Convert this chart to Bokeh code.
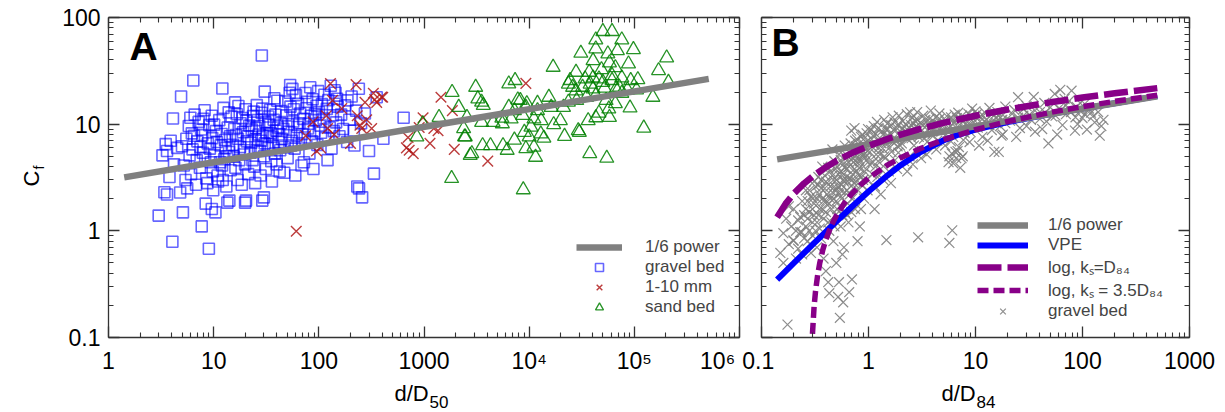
import math
from bokeh.plotting import figure
from bokeh.models import LogAxis, Label, Legend, LegendItem, FixedTicker
from bokeh.layouts import row
from bokeh.embed import file_html
from bokeh.resources import INLINE

FONT = "Liberation Sans"
NB = "\u00a0"

# ---------------- data ----------------
a_xticks = [1, 10, 100, 1000, 1e4, 1e5, 1e6]
a_xticklabels = ["1", "10", "100", "1000", "10⁴", "10⁵", "10⁶" + NB]
b_xticks = [0.1, 1, 10, 100, 1000]
b_xticklabels = ["0.1" + NB, "1", "10", "100", "1000"]
yticks = [0.1, 1, 10, 100]
yticklabels = ["0.1", "1", "10", "100"]

# Panel A: gravel bed (d/D50, Cf)
gravel_a = [
    (3.0, 1.39), (4.05, 0.79), (5.1, 1.49), (7.7, 1.1), (9.0, 0.68), (10.4, 1.49), (9.6, 1.6),
    (13.5, 1.84), (19.9, 1.84), (29, 1.92), (3.6, 2.19), (4.8, 2.29), (8.4, 1.8), (14.1, 1.92),
    (20.3, 1.92), (30, 2.06), (241, 2.5), (258, 2.06), (28.7, 44), (6.4, 25.7), (4.9, 18.2),
    (12.1, 21.6), (16, 16), (30.6, 20.2), (53.4, 23.3), (334, 3.44), (232, 2.6), (300, 5.6),
    (218, 6.3), (411, 7.3), (640, 11.5), (274, 12.6), (187, 16.7), (355, 17.9), (144, 19.7),
    (3.26, 5.1), (3.6, 5.6), (4.1, 11.3), (6.0, 11.5), (3.5, 6.5), (3.9, 7.0), (4.2, 4.2),
    (4.5, 6.0), (3.8, 3.2), (3.4, 2.3),
    (5.2, 4.1), (5.5, 7.3), (5.8, 9.6), (6.1, 3.4), (6.3, 5.8), (6.6, 12.3), (6.8, 2.7), (7.0, 6.9),
    (5.4, 3.0), (5.9, 5.1), (6.2, 8.2), (6.9, 4.6), (7.2, 10.5), (5.0, 6.2), (5.6, 2.5), (6.5, 7.8),
    (7.4, 3.9), (7.6, 8.9), (7.9, 5.4), (8.2, 13.5), (8.5, 3.1), (8.8, 6.6), (9.1, 9.8), (9.4, 4.4),
    (9.7, 7.4), (9.9, 2.4), (7.5, 6.1), (8.0, 11.2), (8.3, 4.8), (8.7, 2.8), (9.2, 5.9), (9.6, 12.0),
    (9.8, 3.6), (7.8, 7.9),
    (10.2, 5.1), (10.5, 8.6), (10.9, 3.3), (11.3, 10.9), (11.7, 6.3), (12.0, 4.1), (12.4, 14.2),
    (12.8, 7.1), (13.2, 2.6), (13.6, 9.3), (14.0, 5.5), (14.5, 3.7), (14.8, 11.8), (10.7, 6.8),
    (11.0, 2.9), (11.9, 8.1), (12.6, 4.7), (13.0, 6.0), (13.9, 12.9), (14.3, 7.7), (10.1, 9.9),
    (11.5, 4.4), (12.2, 3.0), (13.4, 5.0),
    (15.2, 6.4), (15.7, 9.0), (16.1, 3.9), (16.6, 12.4), (17.0, 7.3), (17.5, 4.6), (18.0, 10.2),
    (18.5, 2.7), (19.0, 8.4), (19.6, 5.7), (20.1, 13.8), (20.7, 6.9), (21.3, 3.4), (21.8, 9.7),
    (15.5, 5.0), (16.3, 7.9), (17.8, 6.1), (18.8, 11.4), (19.9, 4.2), (21.0, 7.7), (16.9, 3.0),
    (20.4, 10.8), (17.2, 14.8), (19.3, 5.2),
    (22.4, 5.4), (23.0, 8.9), (23.7, 11.9), (24.3, 4.0), (25.0, 7.2), (25.7, 15.1), (26.4, 6.1),
    (27.1, 9.6), (27.9, 3.3), (28.6, 12.8), (29.4, 7.8), (30.2, 5.0), (31.0, 10.4), (31.8, 8.3),
    (22.8, 6.7), (24.8, 2.8), (26.0, 10.9), (27.5, 5.6), (29.0, 14.0), (30.6, 6.6), (23.4, 4.6),
    (25.3, 9.2), (28.2, 7.0), (31.4, 3.8), (26.8, 8.0), (24.0, 13.1),
    (32.6, 6.0), (33.5, 9.9), (34.4, 13.6), (35.3, 4.5), (36.2, 7.6), (37.2, 11.0), (38.2, 5.3),
    (39.2, 8.7), (40.3, 16.6), (41.3, 6.8), (42.4, 3.6), (43.5, 10.2), (44.6, 7.3), (33.0, 11.8),
    (34.9, 8.2), (36.7, 6.2), (38.7, 12.3), (40.8, 9.3), (42.9, 5.7), (44.0, 13.3), (35.8, 2.9),
    (39.7, 4.2), (37.7, 17.5), (41.9, 8.0),
    (46.0, 9.0), (47.5, 6.1), (49.0, 12.1), (50.5, 4.8), (52.0, 8.5), (53.7, 14.6), (55.3, 7.0),
    (57.0, 10.6), (58.8, 5.9), (60.6, 18.7), (62.5, 9.4), (64.4, 6.6), (66.4, 12.6), (68.4, 4.1),
    (48.2, 16.3), (51.2, 10.0), (54.5, 6.3), (57.9, 13.8), (61.5, 7.8), (65.4, 10.2), (69.4, 8.1),
    (46.8, 3.5), (56.1, 21.4), (63.4, 15.5), (59.7, 3.3), (52.8, 19.7),
    (71.0, 11.2), (73.5, 7.5), (76.0, 14.1), (78.7, 9.1), (81.4, 5.3), (84.3, 12.0), (87.3, 17.1),
    (90.3, 8.6), (93.5, 10.9), (96.8, 6.4), (100, 13.0), (103.5, 9.7), (107, 15.4), (74.7, 19.6),
    (80.0, 10.1), (85.8, 6.9), (91.9, 12.5), (98.4, 20.4), (105, 8.3), (72.2, 4.4), (88.8, 3.8),
    (77.3, 16.2), (95.1, 14.9), (82.8, 22.2),
    (111, 11.3), (115, 7.4), (119, 13.9), (123, 16.8), (127, 9.3), (132, 5.9), (136, 12.1),
    (141, 20.8), (146, 10.4), (151, 14.6), (157, 7.7), (113, 18.9), (121, 4.6), (130, 22.9),
    (139, 8.6), (149, 17.3),
    (163, 12.3), (170, 9.0), (178, 15.0), (186, 6.8), (195, 11.0), (205, 18.2), (215, 8.7),
    (226, 13.4), (240, 21.5), (252, 10.2),
]

# Panel A: 1-10 mm
mm_a = [
    (61, 0.99), (129, 24), (226, 23.5), (275, 16), (355, 16), (405, 17.9), (340, 17), (395, 18),
    (232, 12), (246, 9.8), (318, 9.1), (256, 9.1), (121, 9.1), (104, 6.0), (135, 16.7), (118, 12),
    (705, 7.5), (790, 5.3), (723, 5.7), (980, 11.5), (900, 9.3), (1240, 9.1), (1360, 8.7),
    (1140, 6.6), (1450, 17.9), (1860, 13.4), (1940, 5.8), (4040, 4.5), (9300, 24.1),
    (75, 7.8), (88, 10.5), (95, 5.6), (140, 8.0), (165, 14.0), (200, 6.6), (285, 11.0),
    (330, 19.5), (680, 6.0),
]

# Panel A: sand bed
sand_a = [
    (50200, 74), (61400, 74), (43000, 61.8), (76000, 61.8), (98000, 50.1), (31000, 46.3),
    (203000, 41.9), (16900, 34.2), (170000, 31.8), (88000, 36.8), (43000, 50.8), (56000, 45.6),
    (69000, 49), (27900, 30.7), (37200, 30.7), (46100, 26.6), (61400, 28.6), (92400, 25.7),
    (211000, 24.7), (25900, 22.2), (32200, 22.2), (40500, 21.4), (52100, 21.8), (66900, 21.4),
    (86000, 21.0), (150000, 17.9), (91000, 14.2), (57200, 13.9), (46100, 12.7), (58000, 11.6),
    (36400, 10.8), (43000, 11.5), (29300, 8.7), (30000, 8.4), (21700, 7.7), (123000, 9.2),
    (37700, 5.3), (54700, 4.8), (15400, 17.9), (12000, 15.7), (9500, 15.6), (7800, 16.9),
    (7350, 25.7), (6400, 23.9), (3100, 22.2), (3250, 17.3), (3530, 16.1), (3660, 15.0),
    (2140, 14.4), (1850, 19.9), (2560, 11.6), (2380, 9.1), (2470, 7.6), (3530, 10.4),
    (4540, 10.4), (5560, 10.1), (6740, 11.2), (8670, 12.1), (11100, 11.2), (13000, 10.8),
    (17100, 9.9), (19800, 10.8), (10400, 9.4), (9000, 8.4), (7240, 7.1), (10000, 7.6),
    (12900, 8.1), (13800, 7.4), (11100, 6.1), (9300, 5.9), (11500, 4.9), (6180, 5.7),
    (5640, 6.3), (4290, 6.3), (3610, 6.3), (2850, 5.3), (2750, 5.1), (2430, 7.6), (855, 7.6),
    (1390, 11.6), (973, 10.1), (1830, 3.1), (8790, 2.43), (8240, 16.7), (9300, 14.4),
    (12000, 13.4), (16200, 14.4), (21200, 14.4), (23600, 16.1), (28300, 16.7), (35100, 17.9),
    (43000, 18.6), (53900, 16.7), (72000, 22.2), (105000, 21.0), (6400, 14.4), (7240, 13.4),
    (5500, 11.4), (38000, 23.8), (50200, 24.7), (61400, 25.7), (40500, 27.2), (76000, 27.2),
    (34000, 26.6), (48700, 32.5), (58000, 37.6), (40500, 39.4), (66000, 33.9), (108000, 26.2),
    (24500, 25.7), (27900, 20.5), (23600, 23.8), (76000, 19.5), (66000, 15.6),
]

# Panel A: 1/6 power line
power_a_x = [1.41, 5.1e5]
power_a_y = [3.17, 26.6]

# Panel B: gravel bed (d/D84, Cf)
gravel_b = [
    (0.15, 0.62), (0.16, 0.95), (0.17, 1.3), (0.175, 0.132), (0.18, 0.75), (0.19, 1.1), (0.2, 0.81),
    (0.2, 1.6), (0.21, 0.55), (0.22, 0.68), (0.22, 1.25), (0.23, 0.97), (0.24, 1.9), (0.24, 0.6),
    (0.25, 1.4), (0.237, 0.97), (0.198, 0.81), (0.16, 0.5), (0.18, 1.7),
    (0.26, 1.1), (0.27, 0.8), (0.28, 1.5), (0.29, 2.1), (0.3, 0.9), (0.3, 1.2), (0.31, 1.8),
    (0.32, 2.6), (0.33, 0.7), (0.34, 1.4), (0.35, 1.05), (0.35, 2.2), (0.36, 3.0), (0.37, 1.6),
    (0.38, 0.55), (0.38, 1.3), (0.39, 2.5), (0.4, 1.9), (0.4, 0.42), (0.27, 1.9), (0.29, 0.62),
    (0.32, 1.0), (0.34, 3.2), (0.36, 0.85), (0.26, 2.4), (0.31, 1.4), (0.37, 4.0),
    (0.41, 2.8), (0.42, 1.2), (0.42, 0.33), (0.43, 0.26), (0.44, 3.6), (0.45, 1.6), (0.46, 2.3),
    (0.47, 0.8), (0.48, 4.5), (0.49, 1.4), (0.5, 3.0), (0.5, 1.9), (0.52, 0.24), (0.52, 2.6),
    (0.53, 5.2), (0.54, 0.153), (0.55, 1.1), (0.55, 3.6), (0.56, 2.0), (0.57, 0.6), (0.58, 0.214),
    (0.58, 4.2), (0.59, 2.9), (0.6, 1.5), (0.44, 2.0), (0.46, 5.8), (0.48, 2.6), (0.51, 4.0),
    (0.54, 1.7), (0.57, 3.3), (0.6, 6.3), (0.43, 1.0), (0.47, 3.0), (0.5, 0.5), (0.53, 0.33),
    (0.59, 0.7),
    (0.62, 3.8), (0.63, 2.4), (0.64, 5.0), (0.65, 1.2), (0.66, 0.266), (0.67, 3.1), (0.68, 6.6),
    (0.69, 8.7), (0.7, 0.35), (0.7, 2.0), (0.72, 4.4), (0.73, 2.8), (0.74, 5.6), (0.75, 1.6),
    (0.77, 3.6), (0.78, 7.2), (0.8, 2.4), (0.81, 4.8), (0.83, 1.1), (0.84, 6.0), (0.86, 3.2),
    (0.88, 8.0), (0.9, 4.0), (0.91, 2.0), (0.93, 5.3), (0.95, 6.8), (0.97, 3.0), (0.99, 9.0),
    (0.65, 4.4), (0.71, 3.4), (0.76, 6.2), (0.82, 3.9), (0.87, 5.4), (0.92, 7.4), (0.96, 4.6),
    (0.79, 0.8), (0.85, 1.6), (0.64, 1.8), (0.98, 2.4), (0.74, 9.2),
    (1.02, 4.2), (1.05, 6.3), (1.08, 3.4), (1.1, 7.8), (1.12, 9.6), (1.15, 2.6), (1.18, 5.2),
    (1.2, 10.5), (1.23, 4.5), (1.27, 7.0), (1.3, 3.8), (1.33, 8.6), (1.36, 5.9), (1.4, 11.0),
    (1.43, 4.8), (1.47, 0.82), (1.47, 6.7), (1.5, 10.1), (1.55, 3.6), (1.6, 8.2), (1.64, 5.5),
    (1.68, 11.6), (1.72, 7.4), (1.77, 4.6), (1.82, 9.3), (1.87, 6.2), (1.92, 12.0), (1.97, 8.0),
    (1.06, 8.8), (1.16, 4.0), (1.25, 6.0), (1.38, 3.0), (1.52, 7.8), (1.62, 2.8), (1.75, 10.4),
    (1.9, 5.4), (1.14, 1.6), (1.3, 2.2), (1.45, 9.0), (1.85, 3.8),
    (2.05, 6.6), (2.1, 10.7), (2.15, 4.5), (2.2, 8.6), (2.28, 12.4), (2.35, 7.2), (2.42, 5.0),
    (2.5, 9.8), (2.58, 11.5), (2.66, 6.3), (2.75, 8.9), (2.85, 13.0), (2.91, 0.87), (2.95, 7.6),
    (3.05, 10.3), (3.15, 5.6), (3.25, 12.0), (3.35, 8.3), (3.46, 9.6), (3.58, 6.9), (3.7, 11.2),
    (3.82, 13.4), (3.95, 8.0), (2.3, 3.6), (2.6, 4.2), (3.1, 4.8), (3.5, 5.2), (2.18, 9.4),
    (2.7, 10.8), (3.3, 7.3), (3.9, 10.0), (2.45, 12.9),
    (4.1, 9.1), (4.25, 11.6), (4.4, 7.0), (4.6, 12.6), (4.8, 8.5), (5.0, 10.4), (5.2, 6.3),
    (5.4, 11.9), (5.6, 4.4), (5.7, 0.77), (5.8, 9.6), (6.0, 5.3), (6.06, 1.01), (6.2, 7.6),
    (6.4, 12.3), (6.6, 4.8), (6.8, 9.0), (7.0, 6.1), (7.3, 11.0), (7.6, 5.0), (7.9, 8.3),
    (4.5, 9.9), (5.3, 8.0), (6.1, 10.9), (6.9, 12.8), (7.7, 7.1), (4.3, 5.8), (5.9, 6.9),
    (7.2, 3.9), (6.5, 5.5),
    (8.2, 10.2), (8.6, 12.5), (9.0, 8.4), (9.5, 11.2), (10, 13.2), (10.5, 9.3), (11, 11.8),
    (11.6, 7.6), (12.2, 12.9), (12.8, 10.0), (13.5, 14.2), (14.2, 8.8), (15, 5.5), (15.5, 11.5),
    (16, 13.0), (16.5, 5.5), (17, 9.6), (18, 12.2), (19, 14.6), (8.8, 6.8), (10.8, 6.3),
    (13, 7.0), (17.5, 7.8), (9.3, 14.0), (14.8, 12.0),
    (21, 10.8), (23, 13.6), (25, 17.9), (26, 9.2), (28, 12.0), (30, 14.8), (33, 11.0), (36, 8.5),
    (40, 13.0), (44, 15.8), (48, 6.6), (52, 11.8), (55, 19.2), (60, 14.0), (65, 9.8), (70, 12.4),
    (75, 16.5), (79, 20.6), (85, 8.7), (90, 10.0), (95, 13.3), (100, 11.4), (110, 8.9),
    (120, 12.8), (130, 10.4), (145, 7.8), (157, 11.0), (24, 7.6), (35, 18.0), (46, 10.6),
    (58, 8.0), (68, 17.3), (88, 14.5), (105, 15.5), (62, 21.0),
    (0.21, 1.0), (0.23, 1.35), (0.25, 0.85), (0.26, 1.6), (0.28, 1.0), (0.28, 2.4), (0.3, 1.6),
    (0.31, 2.9), (0.33, 1.2), (0.33, 2.0), (0.35, 1.6), (0.36, 2.5), (0.38, 1.9), (0.39, 3.3),
    (0.4, 1.5), (0.41, 2.2), (0.42, 3.9), (0.43, 1.8), (0.44, 2.6), (0.45, 1.2), (0.46, 3.3),
    (0.47, 2.0), (0.48, 1.1), (0.49, 3.8), (0.5, 2.4), (0.27, 1.3), (0.3, 2.0), (0.34, 2.7),
    (0.37, 2.0), (0.4, 2.9),
    (0.51, 1.6), (0.52, 3.4), (0.53, 2.2), (0.55, 4.6), (0.56, 2.7), (0.57, 1.4), (0.58, 3.0),
    (0.6, 2.3), (0.61, 4.9), (0.62, 3.2), (0.63, 1.4), (0.64, 2.9), (0.66, 4.0), (0.67, 2.2),
    (0.68, 5.3), (0.7, 3.0), (0.71, 4.8), (0.72, 2.5), (0.74, 3.8), (0.75, 7.0), (0.76, 2.9),
    (0.78, 4.4), (0.8, 5.8), (0.81, 3.3), (0.83, 4.5), (0.85, 7.6), (0.86, 2.7), (0.88, 5.0),
    (0.9, 6.5), (0.92, 3.6), (0.94, 4.9), (0.96, 8.2), (0.98, 5.6), (0.6, 3.9), (0.69, 1.5),
    (0.77, 5.1), (0.89, 3.0), (0.55, 2.4),
    (1.03, 5.5), (1.07, 7.2), (1.1, 4.4), (1.13, 6.4), (1.17, 8.1), (1.21, 3.2), (1.24, 9.2),
    (1.28, 5.2), (1.32, 6.6), (1.37, 8.0), (1.41, 5.0), (1.46, 7.6), (1.51, 9.0), (1.57, 6.0),
    (1.63, 9.8), (1.69, 6.8), (1.76, 8.6), (1.83, 7.0), (1.9, 10.0), (1.97, 6.3), (2.05, 9.0),
    (2.13, 7.8), (2.22, 10.0), (2.32, 8.2), (2.42, 9.2), (2.53, 7.4), (2.64, 10.2), (2.76, 9.5),
    (2.88, 11.0), (3.0, 9.0),
    (3.2, 9.8), (3.4, 11.0), (3.6, 10.0), (3.8, 9.2), (4.0, 10.8), (4.3, 10.0), (4.6, 11.2),
    (4.9, 9.6), (5.2, 10.8), (5.5, 9.0), (5.9, 11.6), (6.3, 10.2), (6.7, 11.4), (7.1, 9.9),
    (7.5, 12.0), (8.0, 11.0), (8.5, 9.6), (9.0, 12.0), (9.6, 10.5), (10.3, 12.4), (11.0, 10.6),
    (11.8, 12.0), (12.6, 11.0), (13.5, 9.8), (14.5, 12.6), (15.5, 10.4), (16.5, 12.0),
    (17.8, 11.0), (19.0, 10.2), (5.7, 5.0), (6.2, 4.3), (6.8, 5.6), (7.4, 4.8),
    (22, 12.5), (25, 11.5), (28, 13.8), (32, 12.3), (36, 13.4), (40, 11.2), (45, 12.8),
    (50, 14.4), (56, 12.0), (63, 13.6), (70, 15.0), (78, 13.0), (86, 11.6), (95, 15.8),
    (105, 12.4), (115, 14.0), (125, 11.8), (140, 13.0), (150, 9.6), (18.0, 8.0), (30, 9.6),
    (42, 9.0),
]

# Panel B: model curves
power_b_x = [0.14, 500]
power_b_y = [4.68, 18.3]
vpe_x = [0.14, 0.2, 0.3, 0.5, 0.7, 1, 1.5, 2, 3, 5, 7, 10, 20, 50, 100, 200, 500]
vpe_y = [0.349, 0.497, 0.743, 1.222, 1.683, 2.333, 3.301, 4.124, 5.408, 7.03, 7.99, 8.91,
         10.47, 12.41, 13.98, 15.71, 18.31]
log1_x = [0.14, 0.17, 0.2, 0.25, 0.3, 0.4, 0.5, 0.7, 1, 1.5, 2, 3, 5, 10, 20, 50, 100, 200, 500]
log1_y = [1.34, 1.82, 2.23, 2.785, 3.24, 3.96, 4.52, 5.36, 6.25, 7.26, 7.98, 8.99, 10.27, 12.0,
          13.73, 16.02, 17.75, 19.48, 21.77]
log35_x = [0.29, 0.295, 0.3, 0.31, 0.32, 0.335, 0.35, 0.375, 0.4, 0.45, 0.5, 0.6, 0.7, 0.85, 1,
           1.5, 2, 3, 5, 10, 20, 50, 100, 200, 500]
log35_y = [0.0272, 0.0699, 0.112, 0.194, 0.273, 0.387, 0.497, 0.669, 0.830, 1.124, 1.388, 1.843,
           2.228, 2.712, 3.118, 4.131, 4.849, 5.862, 7.138, 8.868, 10.60, 12.89, 14.62, 16.35, 18.64]

# ---------------- helpers ----------------
AX_COLOR = "#333333"


def minor_of(ticks):
    out = []
    for t in ticks:
        for m in range(2, 10):
            out.append(t * m)
    return out


def style_axis(ax, ticks, labels=None):
    ax.ticker = FixedTicker(ticks=ticks, minor_ticks=minor_of(ticks))
    ax.major_tick_in = 11
    ax.major_tick_out = 0
    ax.minor_tick_in = 5
    ax.minor_tick_out = 0
    ax.axis_line_color = AX_COLOR
    ax.axis_line_width = 1.3
    ax.major_tick_line_color = AX_COLOR
    ax.major_tick_line_width = 1.3
    ax.minor_tick_line_color = AX_COLOR
    ax.minor_tick_line_width = 1.1
    if labels is None:
        ax.major_label_overrides = {float(t): " " for t in ticks}
        ax.major_label_text_font_size = "1px"
        ax.major_label_text_alpha = 0
        ax.major_label_standoff = 0
    else:
        ax.major_label_overrides = {float(t): l for t, l in zip(ticks, labels)}
        ax.major_label_text_font = FONT
        ax.major_label_text_font_size = "23px"
        ax.major_label_text_color = "black"


def make_fig(width, border_left, border_right, xr, xticks, xlabels, ylabels):
    p = figure(width=width, height=412, x_axis_type="log", y_axis_type="log",
               x_range=xr, y_range=(0.1, 100), output_backend="svg",
               toolbar_location=None, min_border_left=border_left,
               min_border_right=border_right, min_border_top=17, min_border_bottom=75)
    p.grid.visible = False
    p.outline_line_color = None
    p.background_fill_color = "white"
    p.border_fill_color = "white"
    style_axis(p.xaxis[0], xticks, xlabels)
    p.xaxis[0].major_label_standoff = 10
    style_axis(p.yaxis[0], yticks, ylabels)
    if ylabels is not None:
        p.yaxis[0].major_label_standoff = 8
    top = LogAxis()
    style_axis(top, xticks)
    p.add_layout(top, "above")
    right = LogAxis()
    style_axis(right, yticks)
    p.add_layout(right, "right")
    return p


def txt(p, place, x, y, dx, dy, text, size, align="left", angle=0.0, bold=False):
    lab = Label(x=x, y=y, x_offset=dx, y_offset=dy, text=text, text_font=FONT,
                text_font_size=size, text_align=align, text_baseline="middle",
                angle=angle, text_color="black",
                text_font_style="bold" if bold else "normal")
    if place == "center":
        p.add_layout(lab)
    else:
        p.add_layout(lab, place)


# ---------------- panel A ----------------
pA = make_fig(741, 97, 2, (1, 1e6), a_xticks, a_xticklabels, yticklabels)

ga = pA.scatter([p[0] for p in gravel_a], [p[1] for p in gravel_a], marker="square", size=11,
                fill_color=None, line_color="#0000ff", line_alpha=0.6, line_width=1.6)
ma = pA.scatter([p[0] for p in mm_a], [p[1] for p in mm_a], marker="x", size=15,
                line_color="#b01a1a", line_alpha=0.85, line_width=1.4)
sa = pA.scatter([p[0] for p in sand_a], [p[1] for p in sand_a], marker="triangle", size=14,
                fill_color=None, line_color="#008000", line_alpha=0.85, line_width=1.3)
pa = pA.line(power_a_x, power_a_y, line_color="#808080", line_width=6.5)

legA = Legend(items=[LegendItem(label="1/6 power", renderers=[pa]),
                     LegendItem(label="gravel bed", renderers=[ga]),
                     LegendItem(label="1-10 mm", renderers=[ma]),
                     LegendItem(label="sand bed", renderers=[sa])],
              location=(468, 20), glyph_width=46, glyph_height=20, label_height=20,
              label_standoff=23, spacing=0, padding=0, margin=0, border_line_color=None,
              background_fill_alpha=0, label_text_font=FONT, label_text_font_size="17px")
pA.add_layout(legA)

txt(pA, "center", 1, 0.1, 21, 291, "A", "39px", bold=True)
txt(pA, "left", 1, 0.1, 286, -56, "d/D", "22px")
txt(pA, "below", 1, 0.1, 321, -64, "50", "17px")
txt(pA, "left", 1, 0.1, -77, 159, "C", "22px", align="center", angle=math.pi / 2)
txt(pA, "above", 1, 0.1, -70, 168, "f", "14px", align="left", angle=math.pi / 2)

# ---------------- panel B ----------------
pB = make_fig(484, 20, 36, (0.1, 1000), b_xticks, b_xticklabels, None)

gb = pB.scatter([p[0] for p in gravel_b], [p[1] for p in gravel_b], marker="x", size=14,
                line_color="#808080", line_alpha=0.9, line_width=1.2)
vb = pB.line(vpe_x, vpe_y, line_color="#0000ff", line_width=6)
pb = pB.line(power_b_x, power_b_y, line_color="#808080", line_width=6.5)
l1 = pB.line(log1_x, log1_y, line_color="#880088", line_width=6.5, line_dash="24 6")
l2 = pB.line(log35_x, log35_y, line_color="#880088", line_width=5.5, line_dash="11 5")

legB = Legend(items=[LegendItem(label="1/6 power", renderers=[pb]),
                     LegendItem(label="VPE", renderers=[vb]),
                     LegendItem(label="log, kₛ=D₈₄", renderers=[l1]),
                     LegendItem(label="log, kₛ = 3.5D₈₄", renderers=[l2]),
                     LegendItem(label="gravel bed", renderers=[gb])],
              location=(216, 16), glyph_width=51, glyph_height=20, label_height=20,
              label_standoff=20, spacing=0, padding=0, margin=0, border_line_color=None,
              background_fill_alpha=0, label_text_font=FONT, label_text_font_size="17px")
pB.add_layout(legB)

txt(pB, "center", 0.1, 0.1, 10, 295, "B", "39px", bold=True)
txt(pB, "below", 0.1, 0.1, 180, -56, "d/D", "22px")
txt(pB, "right", 0.1, 0.1, 215, -64, "84", "17px")

layout = row(pA, pB)
open("out.html", "w").write(file_html(layout, INLINE))
